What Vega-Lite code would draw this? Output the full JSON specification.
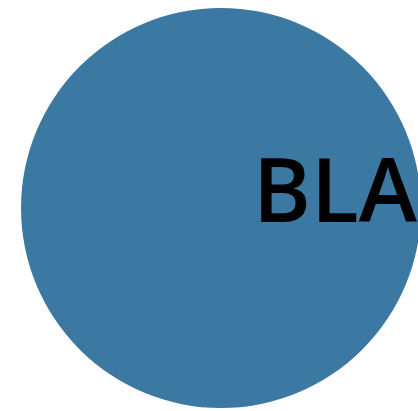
{
  "$schema": "https://vega.github.io/schema/vega-lite/v6.json",
  "width": 442,
  "height": 416,
  "padding": 0,
  "autosize": {"type": "pad"},
  "config": {"view": {"stroke": null}},
  "data": {"values": [{"label": "BLA", "value": 1}]},
  "layer": [
    {
      "mark": {"type": "arc", "radius": 200, "color": "#3b78a2"},
      "encoding": {"theta": {"field": "value", "type": "quantitative"}}
    },
    {
      "mark": {"type": "text", "theta": 1.5708, "radius": 32, "align": "left", "baseline": "alphabetic", "dy": 14, "font": "Open Sans", "fontWeight": 600, "fontSize": 88, "color": "black"},
      "encoding": {"text": {"field": "label", "type": "nominal"}}
    }
  ]
}
